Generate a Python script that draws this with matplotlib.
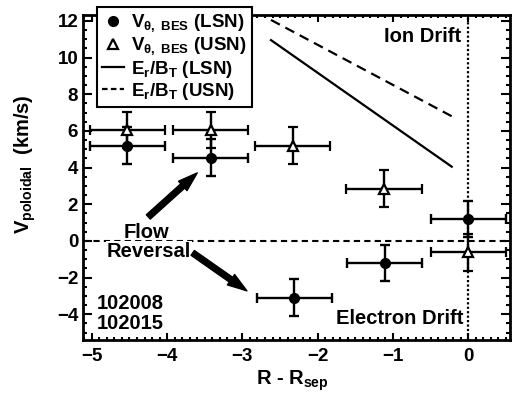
import matplotlib
matplotlib.use('Agg')
import matplotlib.pyplot as plt
from matplotlib import font_manager
from matplotlib.ticker import MultipleLocator
from matplotlib.lines import Line2D

# ---------------- data ----------------
lsn_x = [-4.53, -3.42, -2.31, -1.11, 0.0]
lsn_y = [5.2, 4.55, -3.1, -1.2, 1.2]
lsn_xerr = [0.5, 0.5, 0.5, 0.5, 0.5]
lsn_yerr = [1.0, 1.0, 1.0, 1.0, 1.0]

usn_x = [-4.53, -3.42, -2.33, -1.12, 0.0]
usn_y = [6.05, 6.05, 5.2, 2.85, -0.62]
usn_xerr = [0.5, 0.5, 0.5, 0.5, 0.5]
usn_yerr = [1.0, 1.0, 1.0, 1.0, 1.0]

er_x = [-2.62, -0.22]
er_lsn = [10.95, 4.05]
er_usn = [12.05, 6.8]

xticks = [-5, -4, -3, -2, -1, 0]
yticks = [-4, -2, 0, 2, 4, 6, 8, 10, 12]

# ---------------- fonts ----------------
names = {f.name for f in font_manager.fontManager.ttflist}
if 'Liberation Sans Narrow' in names:
    FONT = 'Liberation Sans Narrow'
    sc = 1.15
else:
    FONT = 'Liberation Sans'
    sc = 1.0

plt.rcParams['font.family'] = [FONT, 'DejaVu Sans']
plt.rcParams['font.weight'] = 'bold'
plt.rcParams['mathtext.fontset'] = 'custom'
for k in ['rm', 'it', 'bf', 'sf']:
    plt.rcParams['mathtext.' + k] = FONT + ':bold'
plt.rcParams['axes.linewidth'] = 2.0

BIG = 14.5 * sc
TICK = 13.5 * sc
LEG = 13.5 * sc

fig = plt.figure(figsize=(5.13, 3.96), dpi=100)
ax = fig.add_axes([83 / 513, 1 - 340 / 396, 427 / 513, 325 / 396])

# reference lines
ax.axhline(0, color='k', lw=1.5, ls=(0, (3, 2)), zorder=1)
ax.axvline(0, color='k', lw=1.6, ls=(0, (1, 1)), zorder=1)

# Er/Bt lines
ax.plot(er_x, er_lsn, color='k', lw=1.6, zorder=2)
ax.plot(er_x, er_usn, color='k', lw=1.6, ls=(0, (4.5, 2.8)), zorder=2)

# error bars
ax.errorbar(lsn_x, lsn_y, xerr=lsn_xerr, yerr=lsn_yerr, fmt='o', color='k',
            ms=7, elinewidth=1.7, capsize=3.5, capthick=1.7, zorder=3)
ax.errorbar(usn_x, usn_y, xerr=usn_xerr, yerr=usn_yerr, fmt='^', color='k',
            mfc='white', mec='k', mew=1.6, ms=7, elinewidth=1.7, capsize=3.5,
            capthick=1.7, zorder=3)

ax.set_xlim(-5.117, 0.554)
ax.set_ylim(-5.4, 12.32)
ax.set_xticks(xticks)
ax.set_yticks(yticks)
ax.xaxis.set_minor_locator(MultipleLocator(0.1))
ax.yaxis.set_minor_locator(MultipleLocator(0.5))
ax.tick_params(which='both', direction='in', top=True, right=True, width=1.5,
               labelsize=TICK)
ax.tick_params(axis='x', which='major', length=5, pad=6)
ax.tick_params(axis='x', which='minor', length=2.5)
ax.tick_params(axis='y', which='major', length=6.5, pad=3.5)
ax.tick_params(axis='y', which='minor', length=3.2)

# labels
ax.text(-0.135, 0.54, r'$\mathrm{V}_\mathrm{poloidal}$  (km/s)', transform=ax.transAxes,
        rotation=90, ha='center', va='center', fontsize=BIG)
ax.text(0.49, -0.125, r'R - $\mathrm{R}_\mathrm{sep}$', transform=ax.transAxes,
        ha='center', va='center', fontsize=BIG)

# annotations
ax.text(-0.09, 11.13, 'Ion Drift', ha='right', va='center', fontsize=BIG)
ax.text(-0.07, -4.21, 'Electron Drift', ha='right', va='center', fontsize=BIG)
ax.text(-4.27, 0.44, 'Flow', ha='center', va='center', fontsize=BIG)
ax.text(-4.24, -0.58, 'Reversal', ha='center', va='center', fontsize=BIG,
        bbox=dict(facecolor='white', edgecolor='none', pad=0.5))
ax.text(-4.93, -3.40, '102008', ha='left', va='center', fontsize=BIG)
ax.text(-4.93, -4.52, '102015', ha='left', va='center', fontsize=BIG)

arrow_style = 'simple,head_length=1.0,head_width=0.65,tail_width=0.3'
ax.annotate('', xy=(-3.60, 3.71), xytext=(-4.25, 1.31),
            arrowprops=dict(arrowstyle=arrow_style, color='k', mutation_scale=14,
                            shrinkA=0, shrinkB=0))
ax.annotate('', xy=(-2.94, -2.72), xytext=(-3.66, -0.65),
            arrowprops=dict(arrowstyle=arrow_style, color='k', mutation_scale=14,
                            shrinkA=0, shrinkB=0))

# legend
handles = [
    Line2D([], [], ls='none', marker='o', color='k', ms=7),
    Line2D([], [], ls='none', marker='^', mfc='white', mec='k', mew=1.6, ms=7),
    Line2D([], [], color='k', lw=1.6),
    Line2D([], [], color='k', lw=1.6, ls=(0, (2.5, 1.5))),
]
labels = [
    r'$\mathrm{V}_{\theta,\ \mathrm{BES}}$ (LSN)',
    r'$\mathrm{V}_{\theta,\ \mathrm{BES}}$ (USN)',
    r'$\mathrm{E}_\mathrm{r}/\mathrm{B}_\mathrm{T}$ (LSN)',
    r'$\mathrm{E}_\mathrm{r}/\mathrm{B}_\mathrm{T}$ (USN)',
]
leg = ax.legend(handles, labels, loc='upper left',
                bbox_to_anchor=(0.032, 1.025), fontsize=LEG, frameon=True,
                fancybox=False, framealpha=1, edgecolor='k', borderpad=0.3,
                labelspacing=0.06, handlelength=1.15, handletextpad=0.4,
                borderaxespad=0)
leg.get_frame().set_linewidth(1.5)
leg.set_zorder(10)

fig.savefig('out.png', dpi=100)
